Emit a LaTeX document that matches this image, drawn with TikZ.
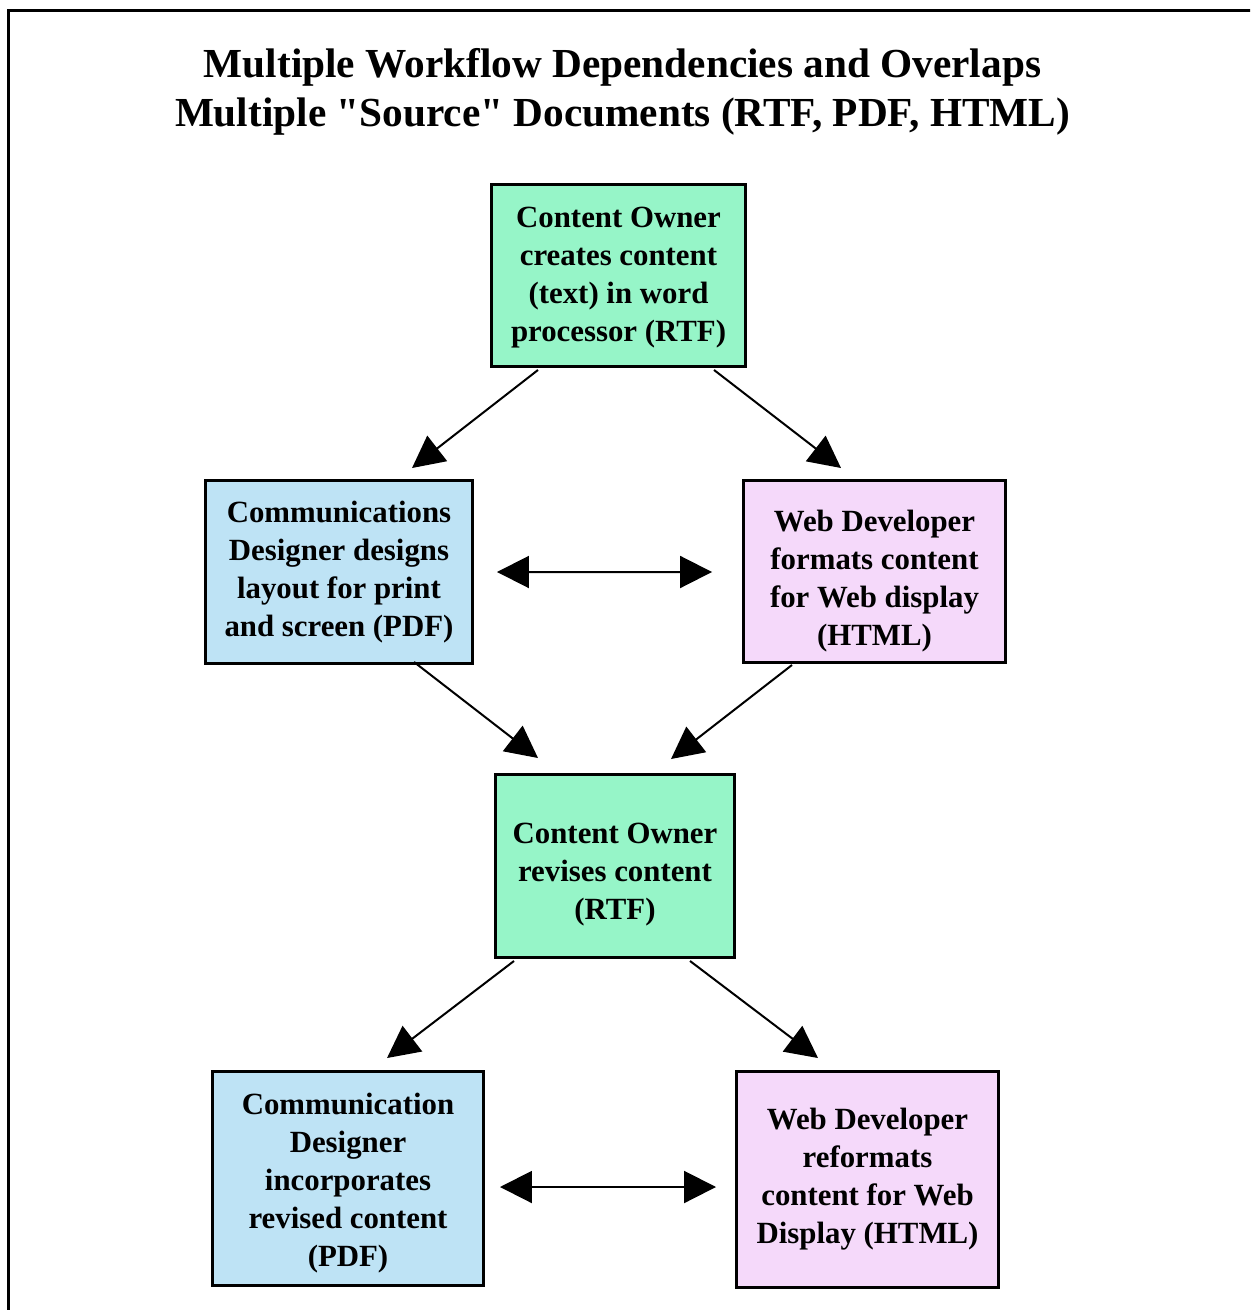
\documentclass[tikz,border=0pt]{standalone}
\usepackage{fontspec}
\setmainfont{Liberation Serif}
\usetikzlibrary{arrows.meta}
\definecolor{ownergreen}{HTML}{96F5C8}
\definecolor{designblue}{HTML}{BEE3F5}
\definecolor{webpink}{HTML}{F5D9FA}
\newcommand\droptext[1]{\rule{0pt}{#1}}
\begin{document}
\begin{tikzpicture}[x=0.02cm, y=-0.02cm, >={Triangle[length=0.64cm, width=0.64cm]},
    box/.style = {draw, line width=0.06cm, align=center, inner sep=0pt, font=\fontsize{17.55}{21.6}\selectfont\bfseries},
    arr/.style = {line width=0.04cm}]
    \clip (0,0) rectangle (1250,1310);
    \draw[line width=0.06cm] (8.5,10.5) rectangle (1400,1400);
    \node[align=center, font=\fontsize{23.5}{27.9}\selectfont\bfseries] (title) at (622.5,92)
        {Multiple Workflow Dependencies and Overlaps\\Multiple \textquotedbl Source\textquotedbl{} Documents (RTF, PDF, HTML)};
    \node[box, fill=ownergreen, minimum width=5.08cm, minimum height=3.64cm] (own1) at (618.5,275.5)
        {\droptext{0.5cm}Content Owner\\creates content\\(text) in word\\processor (RTF)};
    \node[box, fill=designblue, minimum width=5.34cm, minimum height=3.66cm] (cd1) at (339,572)
        {Communications\\Designer designs\\layout for print\\and screen (PDF)};
    \node[box, fill=webpink, minimum width=5.24cm, minimum height=3.64cm] (web1) at (874.5,571.5)
        {\droptext{0.825cm}Web Developer\\formats content\\for Web display\\(HTML)};
    \node[box, fill=ownergreen, minimum width=4.78cm, minimum height=3.66cm] (own2) at (615,866)
        {\droptext{0.745cm}Content Owner\\revises content\\(RTF)};
    \node[box, fill=designblue, minimum width=5.42cm, minimum height=4.28cm] (cd2) at (348,1178.5)
        {\droptext{0.625cm}Communication\\Designer\\incorporates\\revised content\\(PDF)};
    \node[box, fill=webpink, minimum width=5.24cm, minimum height=4.32cm] (web2) at (867.5,1179.5)
        {Web Developer\\reformats\\content for Web\\Display (HTML)};
    % first round
    \draw[arr, ->] ([shift={(-80.5,2)}]own1.south) -- ([shift={(73,-11)}]cd1.north);
    \draw[arr, ->] ([shift={(95.5,2)}]own1.south) -- ([shift={(-33.5,-11)}]web1.north);
    \draw[arr, <->] ([shift={(23,0)}]cd1.east) -- ([shift={(-30,0.5)}]web1.west);
    \draw[arr, ->] ([shift={(75,-3)}]cd1.south) -- ([shift={(-77,-15)}]own2.north);
    \draw[arr, ->] ([shift={(-82.5,1)}]web1.south) -- ([shift={(56,-14)}]own2.north);
    % revision
    \draw[arr, ->] ([shift={(-101,2)}]own2.south) -- ([shift={(39,-12)}]cd2.north);
    \draw[arr, ->] ([shift={(75,2)}]own2.south) -- ([shift={(-49.5,-12)}]web2.north);
    \draw[arr, <->] ([shift={(15,8.5)}]cd2.east) -- ([shift={(-19,7.5)}]web2.west);
\end{tikzpicture}
\end{document}
